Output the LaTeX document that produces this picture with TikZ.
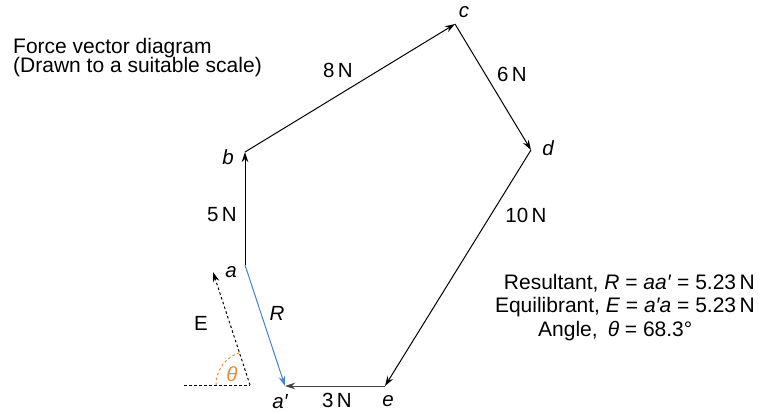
\documentclass[tikz,border=0pt]{standalone}
\usepackage{fontspec}
\setmainfont{Liberation Sans}
\usetikzlibrary{arrows.meta}
\definecolor{rblue}{RGB}{70,130,200}
\definecolor{theta}{RGB}{240,140,50}
\tikzset{
  vec/.style={draw=black, line width=1pt, -{Stealth[length=10pt,width=6.5pt]}},
  lbl/.style={font=\fontsize{20.5}{24}\selectfont, inner sep=0pt},
  pt/.style={font=\fontsize{20.5}{24}\selectfont\itshape, inner sep=0pt},
  txt/.style={font=\fontsize{21}{19}\selectfont, inner sep=0pt},
}
\begin{document}
\begin{tikzpicture}[x=1pt,y=-1pt]
\useasboundingbox (0,0) rectangle (768,413);
\coordinate (a) at (245,265);
\coordinate (b) at (245,152);
\coordinate (c) at (455,24);
\coordinate (d) at (531,150);
\coordinate (e) at (385,386);
\coordinate (ap) at (285,386);
\coordinate (o) at (250,385);
\coordinate (h) at (184,385);
\coordinate (et) at (213,272);

\draw[vec] (a) -- (b);
\draw[vec] (b) -- (c);
\draw[vec] (c) -- (d);
\draw[vec] (d) -- (e);
\draw[vec, draw=black!75] (e) -- (ap);
\draw[vec, draw=rblue] (a) -- (ap);
\draw[line width=1pt, dash pattern=on 2.5pt off 2.5pt] (h) -- (o);
\draw[vec, dash pattern=on 2.5pt off 2.5pt] (o) -- (et);
\draw[theta, line width=1pt, dash pattern=on 2.5pt off 2.5pt] ([shift={(-34,0)}]o) arc[start angle=180, end angle=252, radius=34];

\node[txt, anchor=base west] (title1) at (13,53) {Force vector diagram};
\node[txt, anchor=base west] (title2) at (13,72) {(Drawn to a suitable scale)};

\node[pt] (lc) at (464,12) {c};
\node[pt] (lb) at (228,157) {b};
\node[pt] (ld) at (548,148) {d};
\node[pt] (la) at (231,272) {a};
\node[pt] (le) at (388,401) {e};
\node[pt] (lap) at (280,402) {a′};
\node[pt] (lR) at (277,313) {R};
\node[lbl] (lE) at (201,323) {E};
\node[pt, text=theta] (lth) at (232,374) {θ};

\node[lbl] (f8) at (338,70) {8\,N};
\node[lbl] (f6) at (512,74) {6\,N};
\node[lbl] (f5) at (222,215) {5\,N};
\node[lbl] (f10) at (526,215) {10\,N};
\node[lbl] (f3) at (337,400) {3\,N};

\node[txt, anchor=base east] (res) at (755,289) {Resultant, \textit{R}\;=\;\textit{aa′}\;=\;5.23\,N};
\node[txt, anchor=base east] (equ) at (755,312) {Equilibrant, \textit{E}\;=\;\textit{a′a}\;=\;5.23\,N};
\node[txt, anchor=base west] (ang) at (538,336) {Angle,\hspace{10pt}\textit{θ}\;=\;68.3°};
\end{tikzpicture}
\end{document}
